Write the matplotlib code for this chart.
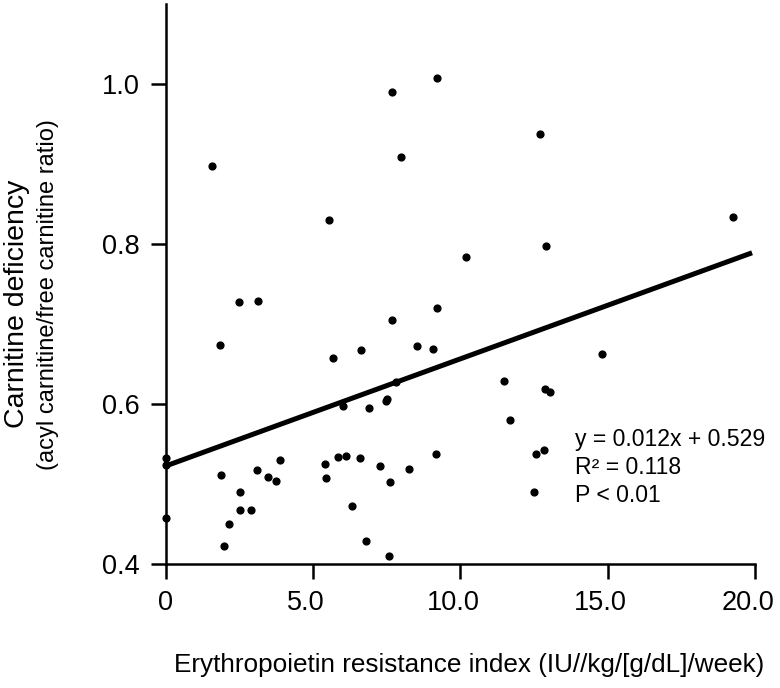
import matplotlib
matplotlib.use("Agg")
import matplotlib.pyplot as plt
from matplotlib.transforms import ScaledTranslation

plt.rcParams['font.family'] = ['Liberation Sans', 'DejaVu Sans']

# scatter data
eri = [9.20, 7.69, 7.98, 1.58, 5.55, 10.18, 2.48, 3.12, 9.21,
       7.69, 1.83, 6.64, 5.67, 8.53, 9.08, 7.82, 6.02, 6.91, 7.47, 7.50,
       0.0, 0.0, 0.0, 1.87, 2.52, 2.53, 2.90, 2.15, 1.97, 3.11, 3.46, 3.75,
       3.89, 5.40, 5.45, 5.86, 6.11, 6.60, 7.28, 7.61, 8.26, 9.16, 6.32,
       6.79, 7.57,
       12.70, 19.24, 12.90, 14.80, 11.48, 12.86, 13.04, 11.68, 12.84, 12.57, 12.49]
ratio = [1.008, 0.990, 0.909, 0.8975, 0.830, 0.784, 0.728, 0.729, 0.720,
         0.705, 0.674, 0.667, 0.657, 0.6725, 0.669, 0.6275, 0.5975, 0.595, 0.604, 0.606,
         0.533, 0.524, 0.458, 0.511, 0.490, 0.468, 0.4675, 0.450, 0.423, 0.518, 0.509, 0.504,
         0.530, 0.525, 0.508, 0.534, 0.535, 0.533, 0.522, 0.503, 0.519, 0.537, 0.472,
         0.429, 0.410,
         0.9375, 0.834, 0.798, 0.6625, 0.629, 0.619, 0.615, 0.580, 0.543, 0.5375, 0.490]

# regression line as drawn
fit_x = [0.0, 19.9]
fit_y = [0.5225, 0.789]

x_ticks = [0, 5, 10, 15, 20]
x_ticklabels = ['0', '5.0', '10.0', '15.0', '20.0']
y_ticks = [0.4, 0.6, 0.8, 1.0]
y_ticklabels = ['0.4', '0.6', '0.8', '1.0']

stats_lines = ['y = 0.012x + 0.529', 'R\u00b2 = 0.118', 'P < 0.01']

W, H = 780, 688
fig = plt.figure(figsize=(W / 100, H / 100), dpi=100)
ax = fig.add_axes([165.7 / W, 1 - 564 / H, (755 - 165.7) / W, (564 - 4) / H])

ax.scatter(eri, ratio, s=24, color='black', zorder=3, clip_on=False)
ax.plot(fit_x, fit_y, color='black', linewidth=3.6, solid_capstyle='butt')

ax.set_xlim(0, 20)
ax.set_ylim(0.4, 1.1)
ax.set_xticks(x_ticks)
ax.set_xticklabels(x_ticklabels)
ax.set_yticks(y_ticks)
ax.set_yticklabels(y_ticklabels)

for side in ['top', 'right']:
    ax.spines[side].set_visible(False)
for side in ['left', 'bottom']:
    ax.spines[side].set_linewidth(1.8)
ax.tick_params(direction='out', length=11, width=1.8, labelsize=19.5, pad=8)

# the x tick labels in the original sit a little left of their ticks
for lab in ax.get_xticklabels()[1:]:
    lab.set_transform(lab.get_transform() + ScaledTranslation(-7 / 100, 0, fig.dpi_scale_trans))

# axis titles
fig.text(17 / W, 1 - 304 / H, 'Carnitine deficiency', rotation=90,
         ha='center', va='center', fontsize=20.5)
fig.text(48 / W, 1 - 295 / H, '(acyl carnitine/free carnitine ratio)', rotation=90,
         ha='center', va='center', fontsize=17)
fig.text(469.5 / W, 1 - 672 / H, 'Erythropoietin resistance index (IU//kg/[g/dL]/week)',
         ha='center', va='baseline', fontsize=18.8)

for i, line in enumerate(stats_lines):
    fig.text(575 / W, 1 - (446 + 27.8 * i) / H, line, ha='left', va='baseline',
             fontsize=16.6)

fig.savefig('out.png', dpi=100)
